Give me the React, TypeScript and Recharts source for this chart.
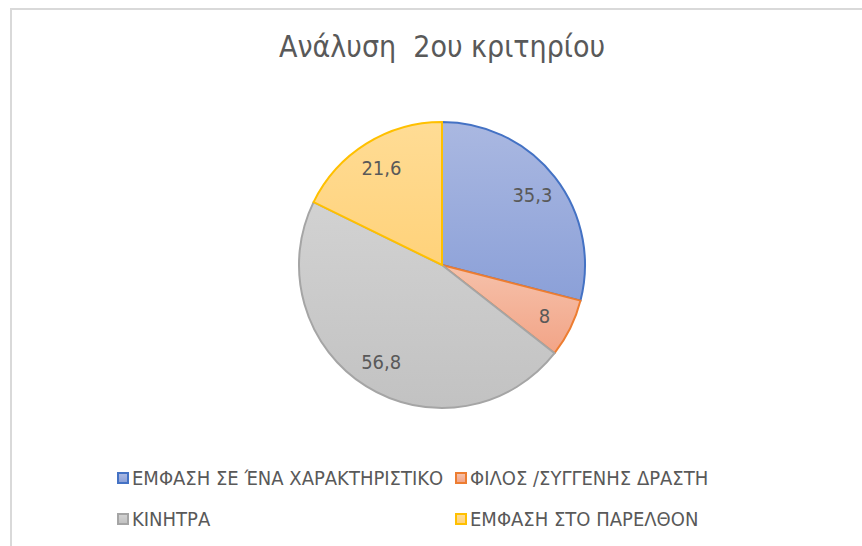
import { PieChart, Pie, Cell, Legend } from "recharts";

const categories = [
  "ΕΜΦΑΣΗ ΣΕ ΈΝΑ ΧΑΡΑΚΤΗΡΙΣΤΙΚΟ",
  "ΦΙΛΟΣ /ΣΥΓΓΕΝΗΣ ΔΡΑΣΤΗ",
  "ΚΙΝΗΤΡΑ",
  "ΕΜΦΑΣΗ ΣΤΟ ΠΑΡΕΛΘΟΝ",
];
const values = [35.3, 8, 56.8, 21.6];
const labels = ["35,3", "8", "56,8", "21,6"];

const strokes = ["#4472c4", "#ed7d31", "#a5a5a5", "#ffc000"];
const gradTop = ["#aab8e1", "#f6c1aa", "#d2d2d2", "#ffdc95"];
const gradBottom = ["#8ba0d8", "#f2a487", "#c2c2c2", "#ffd27a"];

const data = categories.map((name, i) => ({ name, value: values[i], label: labels[i] }));

const FONT = "'DejaVu Sans Condensed', 'Noto Sans', sans-serif";
const RADIAN = Math.PI / 180;

function renderLabel(props: any) {
  const { cx, cy, midAngle, outerRadius, index } = props;
  const r = outerRadius * 0.8;
  const x = cx + r * Math.cos(-midAngle * RADIAN);
  const y = cy + r * Math.sin(-midAngle * RADIAN);
  return (
    <text
      x={x}
      y={y}
      fill="#595959"
      fontSize={20}
      fontFamily={FONT}
      textAnchor="middle"
      dominantBaseline="central"
    >
      {labels[index]}
    </text>
  );
}

function LegendContent() {
  // 2 x 2 grid like the Excel legend
  const cols = [117, 455];
  const rows = [478, 519];
  return (
    <div style={{ position: "relative", width: 862, height: 80 }}>
      {categories.map((name, i) => (
        <div
          key={name}
          style={{
            position: "absolute",
            left: cols[i % 2],
            top: rows[Math.floor(i / 2)] - 470 - 12,
            height: 24,
            display: "flex",
            alignItems: "center",
            whiteSpace: "nowrap",
          }}
        >
          <span
            style={{
              display: "inline-block",
              width: 8,
              height: 8,
              border: `2px solid ${strokes[i]}`,
              background: `linear-gradient(${gradTop[i]}, ${gradBottom[i]})`,
              marginRight: 3,
            }}
          />
          <span style={{ fontFamily: FONT, fontSize: 20, color: "#595959", lineHeight: "24px" }}>
            {name}
          </span>
        </div>
      ))}
    </div>
  );
}

export default function App() {
  return (
    <div
      style={{
        position: "absolute",
        left: 0,
        top: 0,
        width: 862,
        height: 546,
        background: "#fff",
        overflow: "hidden",
      }}
    >
      <div
        style={{
          position: "absolute",
          left: 10,
          top: 8,
          width: 900,
          height: 600,
          borderLeft: "2px solid #d9d9d9",
          borderTop: "2px solid #d9d9d9",
        }}
      />
      <div
        style={{
          position: "absolute",
          left: 0,
          top: 29,
          width: 884,
          textAlign: "center",
          fontFamily: FONT,
          fontSize: 30,
          color: "#595959",
          whiteSpace: "pre",
        }}
      >
        {"Ανάλυση  2ου κριτηρίου"}
      </div>
      <div style={{ position: "absolute", left: 0, top: 0 }}>
        <PieChart width={862} height={546} margin={{ top: 0, right: 0, bottom: 0, left: 0 }}>
          <defs>
            {strokes.map((_, i) => (
              <linearGradient key={i} id={`g${i}`} x1="0" y1="0" x2="0" y2="1">
                <stop offset="0%" stopColor={gradTop[i]} />
                <stop offset="100%" stopColor={gradBottom[i]} />
              </linearGradient>
            ))}
          </defs>
          <Pie
            data={data}
            dataKey="value"
            nameKey="name"
            cx={442}
            cy={265}
            outerRadius={143}
            startAngle={90}
            endAngle={-270}
            label={renderLabel}
            labelLine={false}
            isAnimationActive={false}
          >
            {data.map((d, i) => (
              <Cell key={d.name} fill={`url(#g${i})`} stroke={strokes[i]} strokeWidth={2} />
            ))}
          </Pie>
          <Legend
            content={<LegendContent />}
            wrapperStyle={{ position: "absolute", left: 0, top: 470, width: 862 }}
          />
        </PieChart>
      </div>
    </div>
  );
}
